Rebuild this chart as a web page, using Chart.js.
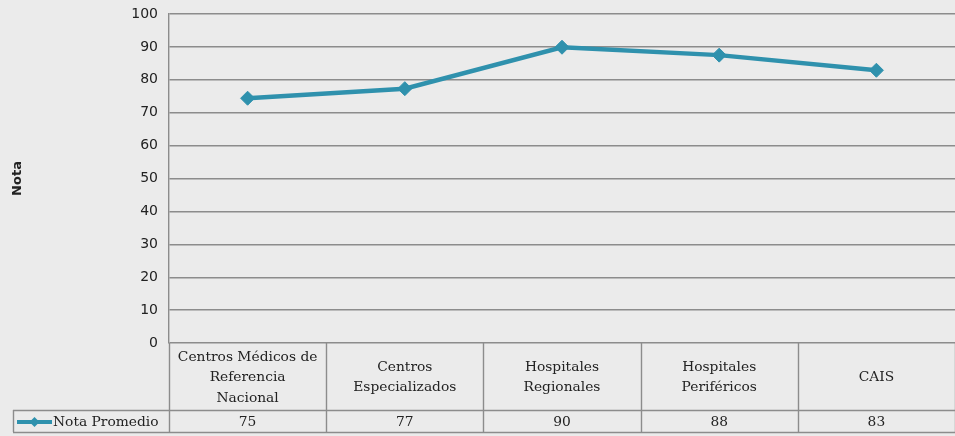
<!DOCTYPE html>
<html>
<head>
<meta charset="utf-8">
<script src="https://cdn.jsdelivr.net/npm/chart.js@4"></script>
<style>
  html, body { margin: 0; padding: 0; background: #ebebeb; }
  #wrap { width: 955px; height: 436px; position: relative; }
</style>
</head>
<body>
<div id="wrap"><canvas id="c" width="955" height="436"></canvas></div>
<script>
const categories = [
  ["Centros Médicos de", "Referencia", "Nacional"],
  ["Centros", "Especializados"],
  ["Hospitales", "Regionales"],
  ["Hospitales", "Periféricos"],
  ["CAIS"]
];
const seriesName = "Nota Promedio";
const notaPromedio = [74.4, 77.3, 89.9, 87.5, 82.9];
const tableValues = ["75", "77", "90", "88", "83"];
const yTicks = [0, 10, 20, 30, 40, 50, 60, 70, 80, 90, 100];
const yTitle = "Nota";

const LINE = "#2f91ad";
const GRID = "#8c8c8c";
const TEXT = "#222";
const SERIF = "'DejaVu Serif', 'Liberation Serif', serif";
const SANS = "'DejaVu Sans', Verdana, sans-serif";

const tablePlugin = {
  id: 'dataTable',
  afterDraw(chart) {
    const ctx = chart.ctx;
    const xs = chart.scales.x;
    const area = chart.chartArea;
    const n = categories.length;
    const bounds = [area.left];
    for (let i = 1; i < n; i++) {
      bounds.push((xs.getPixelForValue(i - 1) + xs.getPixelForValue(i)) / 2);
    }
    bounds.push(area.right);
    const headTop = area.bottom;
    const rowTop = xs.bottom;
    const rowBottom = rowTop + 22;
    const legendLeft = 13;
    ctx.save();
    ctx.strokeStyle = GRID;
    ctx.lineWidth = 1.4;
    ctx.beginPath();
    bounds.forEach((b) => {
      ctx.moveTo(Math.round(b) + 0.5, headTop);
      ctx.lineTo(Math.round(b) + 0.5, rowBottom);
    });
    ctx.moveTo(legendLeft + 0.5, rowTop);
    ctx.lineTo(legendLeft + 0.5, rowBottom);
    ctx.moveTo(legendLeft, rowTop + 0.5);
    ctx.lineTo(area.right, rowTop + 0.5);
    ctx.moveTo(legendLeft, rowBottom + 0.5);
    ctx.lineTo(area.right, rowBottom + 0.5);
    ctx.stroke();

    ctx.fillStyle = TEXT;
    ctx.font = "13.8px " + SERIF;
    ctx.textAlign = "center";
    ctx.textBaseline = "middle";
    const lh = 20.5;
    const headMid = (headTop + rowTop) / 2 + 1;
    for (let i = 0; i < n; i++) {
      const lines = categories[i];
      const y0 = headMid - (lines.length - 1) * lh / 2;
      lines.forEach((t, k) => ctx.fillText(t, xs.getPixelForValue(i), y0 + k * lh));
    }

    const cy = (rowTop + rowBottom) / 2 + 1;
    ctx.strokeStyle = LINE;
    ctx.lineWidth = 4;
    ctx.beginPath();
    ctx.moveTo(17, cy);
    ctx.lineTo(52, cy);
    ctx.stroke();
    ctx.fillStyle = LINE;
    ctx.beginPath();
    ctx.moveTo(34.5, cy - 5);
    ctx.lineTo(39.5, cy);
    ctx.lineTo(34.5, cy + 5);
    ctx.lineTo(29.5, cy);
    ctx.closePath();
    ctx.fill();
    ctx.fillStyle = TEXT;
    ctx.font = "13.8px " + SERIF;
    ctx.textAlign = "left";
    ctx.fillText(seriesName, 53, cy);
    ctx.textAlign = "center";
    for (let i = 0; i < n; i++) {
      ctx.fillText(tableValues[i], xs.getPixelForValue(i), cy);
    }
    ctx.restore();
  }
};

new Chart(document.getElementById('c'), {
  type: 'line',
  data: {
    labels: categories,
    datasets: [{
      label: seriesName,
      data: notaPromedio,
      borderColor: LINE,
      backgroundColor: LINE,
      borderWidth: 4.5,
      pointStyle: 'rectRot',
      pointRadius: 7,
      pointHoverRadius: 7,
      pointBackgroundColor: LINE,
      pointBorderColor: LINE,
      pointBorderWidth: 1,
      tension: 0,
      fill: false
    }]
  },
  options: {
    responsive: false,
    animation: false,
    events: [],
    layout: { autoPadding: false, padding: { top: 14, right: 0, bottom: 26, left: 0 } },
    plugins: {
      legend: { display: false },
      tooltip: { enabled: false }
    },
    scales: {
      x: {
        type: 'category',
        offset: true,
        grid: { display: false, drawTicks: false },
        border: { display: false },
        ticks: {
          color: 'rgba(0,0,0,0)',
          font: { family: SERIF, size: 13 },
          maxRotation: 0,
          autoSkip: false,
          padding: 0
        },
        afterFit(scale) {
          scale.height = 67;
          scale.paddingLeft = 0;
          scale.paddingRight = 0;
        }
      },
      y: {
        min: 0,
        max: 100,
        afterBuildTicks(scale) { scale.ticks = yTicks.map(v => ({ value: v })); },
        grid: { color: GRID, lineWidth: 1.4, drawTicks: false },
        border: { display: true, color: GRID, width: 1.4 },
        ticks: {
          color: TEXT,
          font: { family: SANS, size: 14 },
          padding: 11
        },
        title: {
          display: true,
          text: yTitle,
          color: TEXT,
          font: { family: SANS, size: 13, weight: 'bold' },
          padding: { top: 10, bottom: 0 }
        },
        afterFit(scale) {
          scale.width = 169;
          scale.paddingTop = 0;
          scale.paddingBottom = 0;
        }
      }
    }
  },
  plugins: [tablePlugin]
});
</script>
</body>
</html>
